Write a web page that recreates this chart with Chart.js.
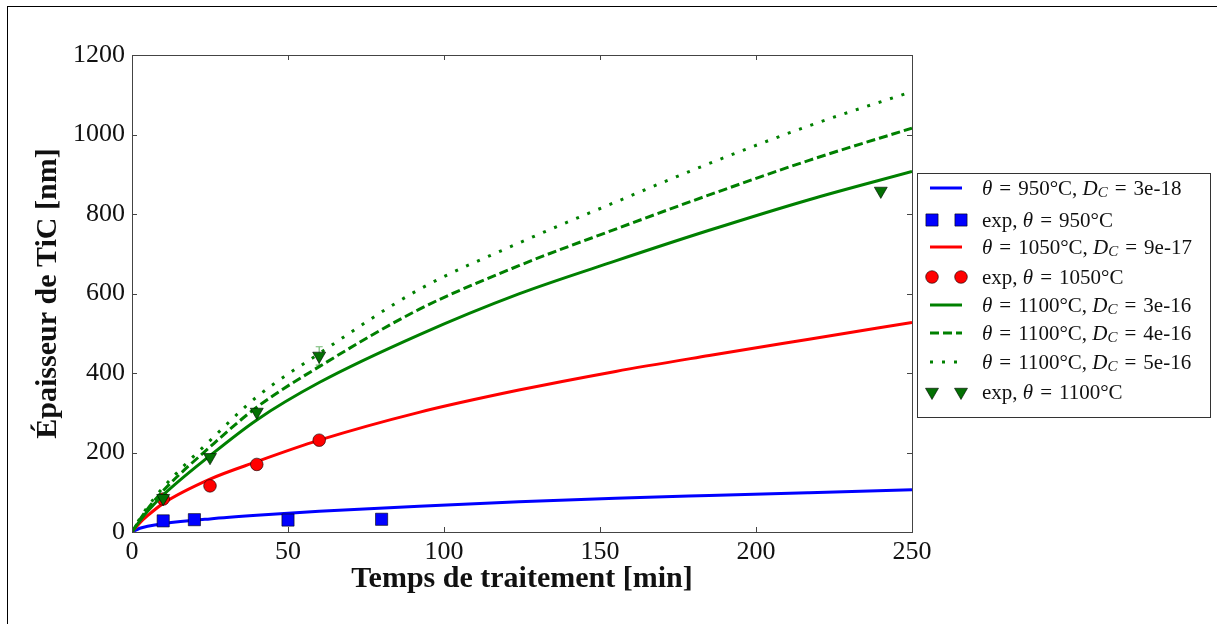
<!DOCTYPE html>
<html>
<head>
<meta charset="utf-8">
<script src="https://cdn.jsdelivr.net/npm/chart.js@4.4.1/dist/chart.umd.min.js"></script>
<style>
  html, body { margin: 0; padding: 0; background: #fff; }
  #wrap { width: 1217px; height: 624px; position: relative; }
</style>
</head>
<body>
<div id="wrap"><canvas id="c" width="1217" height="624"></canvas></div>
<script>
// Model curves: thickness [nm] against treatment time [min]
const modelTime   = [0, 2.5, 5, 10, 25, 40, 60, 92, 124, 155, 185, 217, 250];
const model950    = [0, 9.5, 14.5, 21, 33, 42, 52, 65, 76, 85, 92, 99, 106];
const model1050   = [0, 23, 41, 72, 133, 177, 231, 301, 357, 404, 444, 485, 527];
const model1100a  = [0, 28, 52, 93, 192, 282, 376, 496, 599, 682, 759, 836, 907];
const model1100b  = [0, 31, 58, 104, 214, 314, 416, 560, 670, 762, 848, 935, 1016];
const model1100c  = [0, 34, 63, 112, 230, 340, 449, 610, 727, 830, 927, 1022, 1108];

// Measurements
const exp950Time  = [10, 20, 50, 80];
const exp950      = [28, 31, 30, 32];
const exp1050Time = [10, 25, 40, 60];
const exp1050     = [83, 116, 170, 231];
const exp1100Time = [10, 25, 40, 60, 240];
const exp1100     = [85, 188, 302, 443, 858];
const exp1100Err  = [0, 0, 0, 23, 0];

// Axis ticks
const xTicks = [0, 50, 100, 150, 200, 250];
const yTicks = [0, 200, 400, 600, 800, 1000, 1200];

const pts = (xs, ys) => xs.map((x, i) => ({ x: x, y: ys[i] }));

const BLUE = '#0000ff', RED = '#ff0000', GREEN = '#008000', TRI = '#037003';
const SERIF = '"Liberation Serif", "DejaVu Serif", serif';
const EQ = '\u2004=\u2004';

const lineDs = (data, color, dash) => ({
  type: 'line', data: data, borderColor: color, borderWidth: 3,
  borderDash: dash || [], pointRadius: 0, fill: false,
  cubicInterpolationMode: 'monotone', borderCapStyle: 'butt'
});
const markDs = (data, color, style, r, rot) => ({
  type: 'line', data: data, showLine: false, pointStyle: style,
  pointRadius: r, pointRotation: rot || 0, pointBackgroundColor: color,
  pointBorderColor: '#000', pointBorderWidth: 0.6, borderColor: color
});

const datasets = [
  lineDs(pts(modelTime, model950), BLUE),
  markDs(pts(exp950Time, exp950), BLUE, 'rect', 8.6),
  lineDs(pts(modelTime, model1050), RED),
  markDs(pts(exp1050Time, exp1050), RED, 'circle', 6.3),
  lineDs(pts(modelTime, model1100a), GREEN),
  lineDs(pts(modelTime, model1100b), GREEN, [9, 4]),
  lineDs(pts(modelTime, model1100c), GREEN, [3, 9]),
  markDs(pts(exp1100Time, exp1100), TRI, 'triangle', 7.5, 180)
];
// draw in list order: first dataset at the bottom
datasets.forEach((d, i) => { d.order = datasets.length - i; });

// Legend rows: text parts flagged 0 upright, 1 italic, 2 italic subscript
const legendRows = [
  { ds: 0, y: 188, text: [['θ', 1], [EQ + '950°C, ', 0], ['D', 1], ['C', 2], [EQ + '3e-18', 0]] },
  { ds: 1, y: 220, text: [['exp, ', 0], ['θ', 1], [EQ + '950°C', 0]] },
  { ds: 2, y: 247, text: [['θ', 1], [EQ + '1050°C, ', 0], ['D', 1], ['C', 2], [EQ + '9e-17', 0]] },
  { ds: 3, y: 277, text: [['exp, ', 0], ['θ', 1], [EQ + '1050°C', 0]] },
  { ds: 4, y: 305, text: [['θ', 1], [EQ + '1100°C, ', 0], ['D', 1], ['C', 2], [EQ + '3e-16', 0]] },
  { ds: 5, y: 333, text: [['θ', 1], [EQ + '1100°C, ', 0], ['D', 1], ['C', 2], [EQ + '4e-16', 0]] },
  { ds: 6, y: 362, text: [['θ', 1], [EQ + '1100°C, ', 0], ['D', 1], ['C', 2], [EQ + '5e-16', 0]] },
  { ds: 7, y: 392, text: [['exp, ', 0], ['θ', 1], [EQ + '1100°C', 0]] }
];

const decor = {
  id: 'decor',
  beforeDraw(chart) {
    const ctx = chart.ctx;
    ctx.save();
    ctx.fillStyle = '#fff';
    ctx.fillRect(0, 0, chart.width, chart.height);
    ctx.strokeStyle = '#000';
    ctx.lineWidth = 1;
    ctx.strokeRect(7.5, 6.5, 1400, 800);
    ctx.restore();
  },
  beforeDatasetsDraw(chart) {
    // error bars under the markers
    const ctx = chart.ctx, xs = chart.scales.x, ys = chart.scales.y;
    ctx.save();
    ctx.strokeStyle = 'rgba(0,128,0,0.55)';
    ctx.lineWidth = 1.2;
    exp1100Time.forEach((t, i) => {
      const e = exp1100Err[i];
      if (!e) return;
      const px = xs.getPixelForValue(t);
      const y1 = ys.getPixelForValue(exp1100[i] + e);
      const y2 = ys.getPixelForValue(exp1100[i] - e);
      ctx.beginPath();
      ctx.moveTo(px, y1); ctx.lineTo(px, y2);
      ctx.moveTo(px - 3.5, y1); ctx.lineTo(px + 3.5, y1);
      ctx.moveTo(px - 3.5, y2); ctx.lineTo(px + 3.5, y2);
      ctx.stroke();
    });
    ctx.restore();
  },
  afterDatasetsDraw(chart) {
    const ctx = chart.ctx, a = chart.chartArea, xs = chart.scales.x, ys = chart.scales.y;
    ctx.save();
    // axes frame and inward ticks on all four sides
    ctx.strokeStyle = '#444';
    ctx.lineWidth = 1;
    ctx.strokeRect(Math.round(a.left) + 0.5, Math.round(a.top) + 0.5,
                   Math.round(a.right - a.left), Math.round(a.bottom - a.top));
    ctx.beginPath();
    xTicks.forEach(v => {
      const px = Math.round(xs.getPixelForValue(v)) + 0.5;
      ctx.moveTo(px, a.bottom); ctx.lineTo(px, a.bottom - 5);
      ctx.moveTo(px, a.top); ctx.lineTo(px, a.top + 5);
    });
    yTicks.forEach(v => {
      const py = Math.round(ys.getPixelForValue(v)) + 0.5;
      ctx.moveTo(a.left, py); ctx.lineTo(a.left + 5, py);
      ctx.moveTo(a.right, py); ctx.lineTo(a.right - 5, py);
    });
    ctx.stroke();

    // legend box
    const L = { x: 917, y: 173, w: 293, h: 244 };
    ctx.fillStyle = '#fff';
    ctx.fillRect(L.x, L.y, L.w, L.h);
    ctx.strokeStyle = '#333';
    ctx.strokeRect(L.x + 0.5, L.y + 0.5, L.w, L.h);

    legendRows.forEach(row => {
      const ds = chart.data.datasets[row.ds];
      if (ds.showLine === false) {
        [932, 961].forEach(mx => {
          ctx.fillStyle = ds.pointBackgroundColor;
          ctx.strokeStyle = ds.pointBorderColor;
          ctx.lineWidth = ds.pointBorderWidth;
          Chart.helpers.drawPoint(ctx, { pointStyle: ds.pointStyle, radius: ds.pointRadius,
            rotation: ds.pointRotation, borderWidth: ds.pointBorderWidth }, mx, row.y);
        });
      } else {
        ctx.strokeStyle = ds.borderColor;
        ctx.lineWidth = ds.borderWidth;
        ctx.setLineDash(ds.borderDash || []);
        ctx.beginPath();
        ctx.moveTo(930, row.y); ctx.lineTo(962, row.y);
        ctx.stroke();
        ctx.setLineDash([]);
      }
      // label text with italic / subscript parts
      let tx = 982;
      ctx.fillStyle = '#111';
      ctx.textBaseline = 'middle';
      ctx.textAlign = 'left';
      row.text.forEach(([s, kind]) => {
        if (kind === 2) {
          ctx.font = 'italic 15px ' + SERIF;
          ctx.fillText(s, tx, row.y + 5);
        } else {
          ctx.font = (kind === 1 ? 'italic ' : '') + '21px ' + SERIF;
          ctx.fillText(s, tx, row.y + 1);
        }
        tx += ctx.measureText(s).width;
      });
    });
    ctx.restore();
  }
};

new Chart(document.getElementById('c'), {
  type: 'line',
  data: { datasets: datasets },
  plugins: [decor],
  options: {
    responsive: false,
    animation: false,
    events: [],
    layout: { padding: { top: 55, right: 305, left: 0, bottom: 0 } },
    plugins: { legend: { display: false }, tooltip: { enabled: false } },
    scales: {
      x: {
        type: 'linear', min: 0, max: 250,
        afterBuildTicks: s => { s.ticks = xTicks.map(v => ({ value: v })); },
        afterFit: s => { s.height = 92; },
        grid: { display: false, drawTicks: false },
        border: { display: false },
        ticks: { padding: 5, maxRotation: 0, color: '#111',
                 font: { family: SERIF, size: 26 },
                 callback: v => String(v) },
        title: { display: true, text: 'Temps de traitement [min]', color: '#111',
                 font: { family: SERIF, size: 30, weight: 'bold' },
                 padding: { top: 0, bottom: 27 } }
      },
      y: {
        type: 'linear', min: 0, max: 1200,
        afterBuildTicks: s => { s.ticks = yTicks.map(v => ({ value: v })); },
        afterFit: s => { s.width = 132; },
        grid: { display: false, drawTicks: false },
        border: { display: false },
        ticks: { padding: 7, color: '#111',
                 font: { family: SERIF, size: 26 },
                 callback: v => String(v) },
        title: { display: true, text: 'Épaisseur de TiC [nm]', color: '#111',
                 font: { family: SERIF, size: 30, weight: 'bold' },
                 padding: { top: 30, bottom: 0 } }
      }
    }
  }
});
</script>
</body>
</html>
